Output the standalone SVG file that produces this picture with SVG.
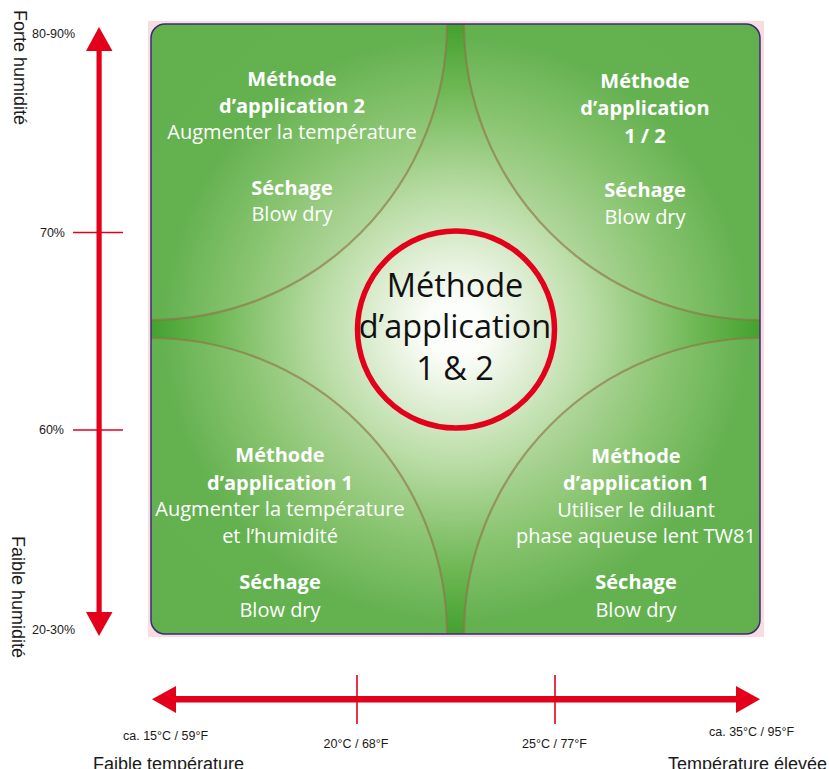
<svg xmlns="http://www.w3.org/2000/svg" width="829" height="769" viewBox="0 0 829 769">
<style>
.ax{font-family:"Liberation Sans",Arial,sans-serif;fill:#1a1a1a}
.sm{font-size:12.5px}
.big{font-size:18px}
.q{font-family:"Open Sans","Noto Sans",sans-serif;fill:#ffffff;font-size:20px;text-anchor:middle}
.b{font-weight:bold}
.ctr{font-family:"Open Sans","Noto Sans",sans-serif;fill:#111;font-size:32.5px;text-anchor:middle}
.arc{fill:none;stroke:#8e7448;stroke-opacity:0.65;stroke-width:2.2}
.red{fill:#e2001a}
.tick{stroke:#e2001a;stroke-width:1.6}
</style>
<defs>
<radialGradient id="gStar" gradientUnits="userSpaceOnUse" cx="455.5" cy="329" r="310">
<stop offset="0" stop-color="#ffffff"/>
<stop offset="0.12" stop-color="#f3f9ee"/>
<stop offset="0.45" stop-color="#b7dba2"/>
<stop offset="0.78" stop-color="#6db753"/>
<stop offset="1" stop-color="#40a02b"/>
</radialGradient>
<radialGradient id="gDisc" gradientUnits="userSpaceOnUse" cx="455.5" cy="329" r="431">
<stop offset="0" stop-color="#ffffff"/>
<stop offset="0.3" stop-color="#b4d8a0"/>
<stop offset="0.5" stop-color="#88c46f"/>
<stop offset="0.68" stop-color="#64b150"/>
<stop offset="1" stop-color="#61b04d"/>
</radialGradient>
<radialGradient id="gCirc" gradientUnits="userSpaceOnUse" cx="455.5" cy="329" r="100">
<stop offset="0" stop-color="#ffffff"/>
<stop offset="0.3" stop-color="#fbfdf9"/>
<stop offset="1" stop-color="#d3e8c5"/>
</radialGradient>
<clipPath id="sq"><rect x="151" y="24" width="609" height="610" rx="14"/></clipPath>
</defs>

<g id="panel">
<rect x="148" y="21" width="616" height="616" fill="#f8dce2"/>
<g clip-path="url(#sq)">
<rect x="151" y="24" width="609" height="610" fill="url(#gStar)"/>
<path d="M151 24 L447 24 A296 296 0 0 1 151 320 Z" fill="url(#gDisc)"/>
<path d="M760 24 L760 320 A296 296 0 0 1 464 24 Z" fill="url(#gDisc)"/>
<path d="M760 634 L464 634 A296 296 0 0 1 760 338 Z" fill="url(#gDisc)"/>
<path d="M151 634 L151 338 A296 296 0 0 1 447 634 Z" fill="url(#gDisc)"/>
<path class="arc" d="M447 24 A296 296 0 0 1 151 320"/>
<path class="arc" d="M760 320 A296 296 0 0 1 464 24"/>
<path class="arc" d="M464 634 A296 296 0 0 1 760 338"/>
<path class="arc" d="M151 338 A296 296 0 0 1 447 634"/>
</g>
<rect x="151" y="24" width="609" height="610" rx="14" fill="none" stroke="#3b2a7a" stroke-width="1.5"/>
</g>

<g id="center">
<circle cx="456" cy="329.5" r="98.5" fill="url(#gCirc)" stroke="#e2001a" stroke-width="5.5"/>
<text class="ctr" x="455" y="297">Méthode</text>
<text class="ctr" x="455" y="338">d’application</text>
<text class="ctr" x="455" y="380">1 &amp; 2</text>
</g>

<g id="q-top-left">
<text class="q b" x="292" y="86">Méthode</text>
<text class="q b" x="292" y="113">d’application 2</text>
<text class="q" x="292" y="139">Augmenter la température</text>
<text class="q b" x="292" y="195">Séchage</text>
<text class="q" x="292" y="221">Blow dry</text>
</g>

<g id="q-top-right">
<text class="q b" x="645" y="88">Méthode</text>
<text class="q b" x="645" y="115">d’application</text>
<text class="q b" x="645" y="143">1 / 2</text>
<text class="q b" x="645" y="197">Séchage</text>
<text class="q" x="645" y="224">Blow dry</text>
</g>

<g id="q-bottom-left">
<text class="q b" x="280" y="462">Méthode</text>
<text class="q b" x="280" y="490">d’application 1</text>
<text class="q" x="280" y="516">Augmenter la température</text>
<text class="q" x="280" y="543">et l’humidité</text>
<text class="q b" x="280" y="589">Séchage</text>
<text class="q" x="280" y="617">Blow dry</text>
</g>

<g id="q-bottom-right">
<text class="q b" x="636" y="463">Méthode</text>
<text class="q b" x="636" y="490">d’application 1</text>
<text class="q" x="636" y="517">Utiliser le diluant</text>
<text class="q" x="636" y="543">phase aqueuse lent TW81</text>
<text class="q b" x="636" y="589">Séchage</text>
<text class="q" x="636" y="617">Blow dry</text>
</g>

<g id="connectors">
<rect class="red" x="96.5" y="48" width="5.2" height="566"/>
<polygon class="red" points="99,27 86,51 112.5,51"/>
<polygon class="red" points="99,636 86,612 112.5,612"/>
<line class="tick" x1="73" y1="232.5" x2="123" y2="232.5"/>
<line class="tick" x1="73" y1="430" x2="123" y2="430"/>
<rect class="red" x="173" y="696" width="566" height="6.5"/>
<polygon class="red" points="152,699.3 176,686 176,713"/>
<polygon class="red" points="760,699.3 736,686 736,713"/>
<line class="tick" x1="357" y1="675" x2="357" y2="724"/>
<line class="tick" x1="555" y1="675" x2="555" y2="724"/>
</g>

<g id="axis-labels">
<text class="ax sm" x="32" y="38">80-90%</text>
<text class="ax sm" x="65" y="236.5" text-anchor="end">70%</text>
<text class="ax sm" x="64" y="434" text-anchor="end">60%</text>
<text class="ax sm" x="32" y="634">20-30%</text>
<text class="ax big" transform="translate(13.5,10) rotate(90)">Forte humidité</text>
<text class="ax big" transform="translate(12,658) rotate(90)" text-anchor="end">Faible humidité</text>
<text class="ax sm" x="123" y="740">ca. 15°C / 59°F</text>
<text class="ax sm" x="356" y="748" text-anchor="middle">20°C / 68°F</text>
<text class="ax sm" x="554.5" y="748" text-anchor="middle">25°C / 77°F</text>
<text class="ax sm" x="709" y="736">ca. 35°C / 95°F</text>
<text class="ax big" x="93" y="770">Faible température</text>
<text class="ax big" x="668" y="770">Température élevée</text>
</g>
</svg>
